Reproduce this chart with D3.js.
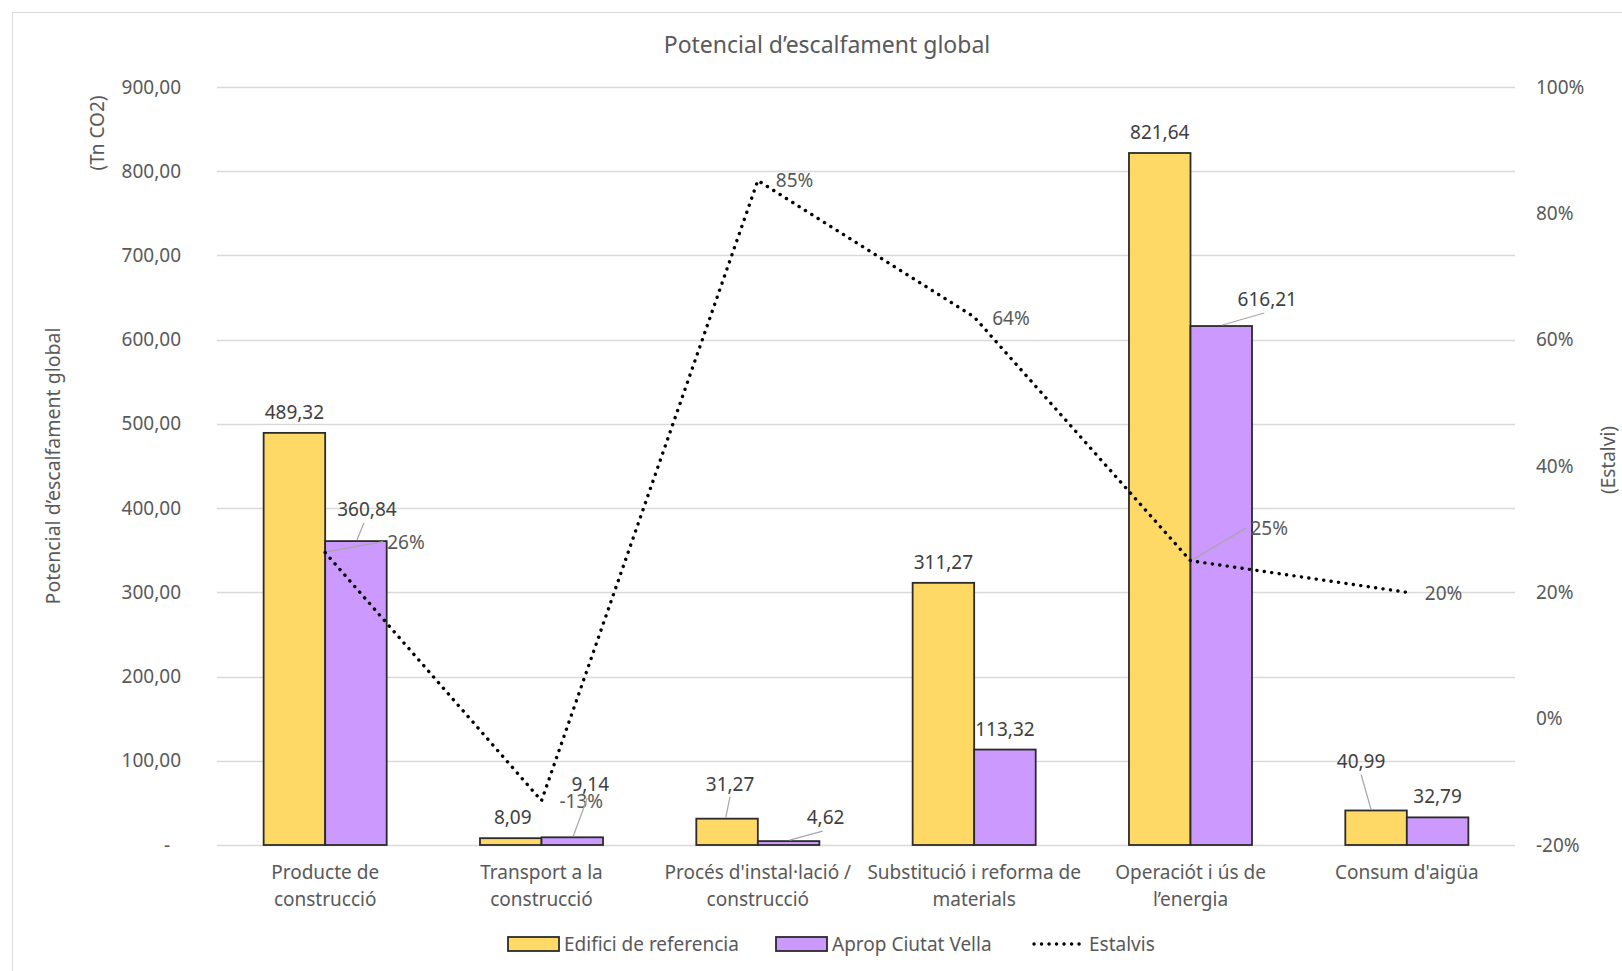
<!DOCTYPE html>
<html>
<head>
<meta charset="utf-8">
<script src="https://cdn.jsdelivr.net/npm/d3@7"></script>
<style>
  html, body { margin: 0; padding: 0; background: #fff; }
  svg { display: block; font-family: "Noto Sans", "Open Sans", sans-serif; }
</style>
</head>
<body>
<svg id="chart" width="1622" height="971"></svg>
<script>
// ---------- data ----------
const categories = [
  "Producte de construcció",
  "Transport a la construcció",
  "Procés d'instal·lació / construcció",
  "Substitució i reforma de materials",
  "Operaciót i ús de l’energia",
  "Consum d'aigüa"
];
const categoryLines = [
  ["Producte de", "construcció"],
  ["Transport a la", "construcció"],
  ["Procés d'instal·lació /", "construcció"],
  ["Substitució i reforma de", "materials"],
  ["Operaciót i ús de", "l’energia"],
  ["Consum d'aigüa"]
];
const seriesNames = ["Edifici de referencia", "Aprop Ciutat Vella", "Estalvis"];
const edificiReferencia = [489.32, 8.09, 31.27, 311.27, 821.64, 40.99];
const apropCiutatVella = [360.84, 9.14, 4.62, 113.32, 616.21, 32.79];
const estalvis = [0.263, -0.13, 0.852, 0.636, 0.25, 0.20];
const leftTicks = [0, 100, 200, 300, 400, 500, 600, 700, 800, 900];
const rightTicks = [-0.2, 0, 0.2, 0.4, 0.6, 0.8, 1.0];

// ---------- layout (label nudges, in px) ----------
const refLabelNudge = [[0,0],[2,0],[3,-14],[0,0],[0,0],[-15,-28]];
const aproLabelNudge = [[11,-11],[18,-32],[37,-3],[0,0],[46,-6],[0,0]];
const pctLabelNudge = [[44,-11],[0,0],[0,0],[0,1],[42,-33],[0,1]];

// ---------- setup ----------
const svg = d3.select("#chart");
const plotL = 217, plotR = 1515, plotT = 87, plotB = 845;
const colRef = "#FFD966", colApr = "#CC99FF";
const labelFont = 19;

svg.append("rect").attr("x", 12.5).attr("y", 12.5).attr("width", 1650).attr("height", 1000)
  .attr("fill", "#fff").attr("stroke", "#d9d9d9").attr("stroke-width", 1);

const x = d3.scaleBand().domain(categories).range([plotL, plotR]).paddingInner(0).paddingOuter(0);
const xs = d3.scaleBand().domain([0, 1]).range([0, x.bandwidth()]).paddingInner(0).paddingOuter(0.758);
const yL = d3.scaleLinear().domain([0, 900]).range([plotB, plotT]);
const yR = d3.scaleLinear().domain([-0.2, 1.0]).range([plotB, plotT]);

// gridlines
svg.append("g").selectAll("line").data(leftTicks).join("line")
  .attr("x1", plotL).attr("x2", plotR)
  .attr("y1", d => Math.round(yL(d)) + 0.5).attr("y2", d => Math.round(yL(d)) + 0.5)
  .attr("stroke", "#d9d9d9").attr("stroke-width", 1.5);

// left axis
const fmtNum = d => d === 0 ? "-" : d3.format(".2f")(d).replace(".", ",");
const axL = svg.append("g").attr("transform", `translate(${plotL},0)`)
  .call(d3.axisLeft(yL).tickValues(leftTicks).tickSize(0).tickPadding(36).tickFormat(fmtNum));
axL.select(".domain").remove();
axL.selectAll("text").attr("font-size", labelFont).attr("fill", "#595959")
  .attr("font-family", "Noto Sans").attr("dx", d => d === 0 ? -11 : 0);

// right axis
const axR = svg.append("g").attr("transform", `translate(${plotR},0)`)
  .call(d3.axisRight(yR).tickValues(rightTicks).tickSize(0).tickPadding(21).tickFormat(d3.format(".0%")));
axR.select(".domain").remove();
axR.selectAll("text").attr("font-size", labelFont).attr("fill", "#595959").attr("font-family", "Noto Sans")
  .text(d => Math.round(d * 100) + "%");

// bars
const gBars = svg.append("g");
[edificiReferencia, apropCiutatVella].forEach((vals, si) => {
  gBars.selectAll(null).data(vals).join("rect")
    .attr("x", (d, i) => x(categories[i]) + xs(si))
    .attr("y", d => yL(d))
    .attr("width", xs.bandwidth())
    .attr("height", d => yL(0) - yL(d))
    .attr("fill", si === 0 ? colRef : colApr)
    .attr("stroke", "#2b2b2b").attr("stroke-width", 1.8);
});

// line
const cx = i => x(categories[i]) + x.bandwidth() / 2;
const line = d3.line().x((d, i) => cx(i)).y(d => yR(d));
svg.append("path").datum(estalvis).attr("d", line)
  .attr("fill", "none").attr("stroke", "#000").attr("stroke-width", 3.4)
  .attr("stroke-linecap", "round").attr("stroke-dasharray", "0.1,7.4");

// data labels
const gLab = svg.append("g").attr("font-size", labelFont).attr("font-family", "Noto Sans");
const lead = (x1, y1, x2, y2) => svg.append("line").attr("x1", x1).attr("y1", y1).attr("x2", x2).attr("y2", y2)
  .attr("stroke", "#a6a6a6").attr("stroke-width", 1.2);

edificiReferencia.forEach((v, i) => {
  const bx = x(categories[i]) + xs(0) + xs.bandwidth() / 2;
  const lx = bx + refLabelNudge[i][0], ly = yL(v) - 21 + refLabelNudge[i][1];
  if (refLabelNudge[i][1] < -5) lead(bx - 2 + refLabelNudge[i][0] * 0.2, yL(v) - 1, lx + 0, ly + 13);
  gLab.append("text").attr("x", lx).attr("y", ly).attr("text-anchor", "middle")
    .attr("dominant-baseline", "central").attr("fill", "#404040").text(d3.format(".2f")(v).replace(".", ","));
});
apropCiutatVella.forEach((v, i) => {
  const bx = x(categories[i]) + xs(1) + xs.bandwidth() / 2;
  const lx = bx + aproLabelNudge[i][0], ly = yL(v) - 21 + aproLabelNudge[i][1];
  if (Math.abs(aproLabelNudge[i][0]) > 5) lead(bx + 1, yL(v) - 1, lx - 3, ly + 14);
  gLab.append("text").attr("x", lx).attr("y", ly).attr("text-anchor", "middle")
    .attr("dominant-baseline", "central").attr("fill", "#404040").text(d3.format(".2f")(v).replace(".", ","));
});
estalvis.forEach((v, i) => {
  const px = cx(i), py = yR(v);
  const lx = px + 18 + pctLabelNudge[i][0], ly = py + pctLabelNudge[i][1];
  if (pctLabelNudge[i][0] > 5 || pctLabelNudge[i][1] < -5) lead(px + 2, py - 1, lx - 4, ly);
  gLab.append("text").attr("x", lx).attr("y", ly).attr("text-anchor", "start")
    .attr("dominant-baseline", "central").attr("fill", "#595959").text(Math.round(v * 100) + "%");
});

// category labels
const gCat = svg.append("g").attr("font-size", labelFont).attr("fill", "#595959").attr("font-family", "Noto Sans");
categoryLines.forEach((lines, i) => {
  lines.forEach((t, j) => {
    gCat.append("text").attr("x", cx(i)).attr("y", 872 + j * 27).attr("text-anchor", "middle")
      .attr("dominant-baseline", "central").text(t);
  });
});

// title
svg.append("text").attr("x", 827).attr("y", 44).attr("text-anchor", "middle").attr("dominant-baseline", "central")
  .attr("font-size", 23).attr("fill", "#595959").text("Potencial d’escalfament global");

// axis titles
svg.append("text").attr("transform", "translate(52,466) rotate(-90)").attr("text-anchor", "middle")
  .attr("dominant-baseline", "central").attr("font-size", 19.5).attr("fill", "#595959").text("Potencial d’escalfament global");
svg.append("text").attr("transform", "translate(97,133) rotate(-90)").attr("text-anchor", "middle")
  .attr("dominant-baseline", "central").attr("font-size", 19).attr("fill", "#595959").text("(Tn CO2)");
svg.append("text").attr("transform", "translate(1608,460) rotate(-90)").attr("text-anchor", "middle")
  .attr("dominant-baseline", "central").attr("font-size", 19).attr("fill", "#595959").text("(Estalvi)");

// legend
const gLeg = svg.append("g").attr("font-size", labelFont).attr("fill", "#595959").attr("font-family", "Noto Sans");
const legY = 944;
const legItems = [
  { name: seriesNames[0], type: "bar", color: colRef, x0: 508 },
  { name: seriesNames[1], type: "bar", color: colApr, x0: 776 },
  { name: seriesNames[2], type: "line", x0: 1032 }
];
legItems.forEach(it => {
  if (it.type === "bar") {
    gLeg.append("rect").attr("x", it.x0).attr("y", legY - 7).attr("width", 51).attr("height", 14)
      .attr("fill", it.color).attr("stroke", "#2b2b2b").attr("stroke-width", 1.8);
  } else {
    gLeg.append("line").attr("x1", it.x0 + 2).attr("x2", it.x0 + 52).attr("y1", legY).attr("y2", legY)
      .attr("stroke", "#000").attr("stroke-width", 3.4).attr("stroke-linecap", "round").attr("stroke-dasharray", "0.1,7.4");
  }
  gLeg.append("text").attr("x", it.x0 + (it.type === "bar" ? 56 : 57)).attr("y", legY)
    .attr("dominant-baseline", "central").text(it.name);
});
</script>
</body>
</html>
